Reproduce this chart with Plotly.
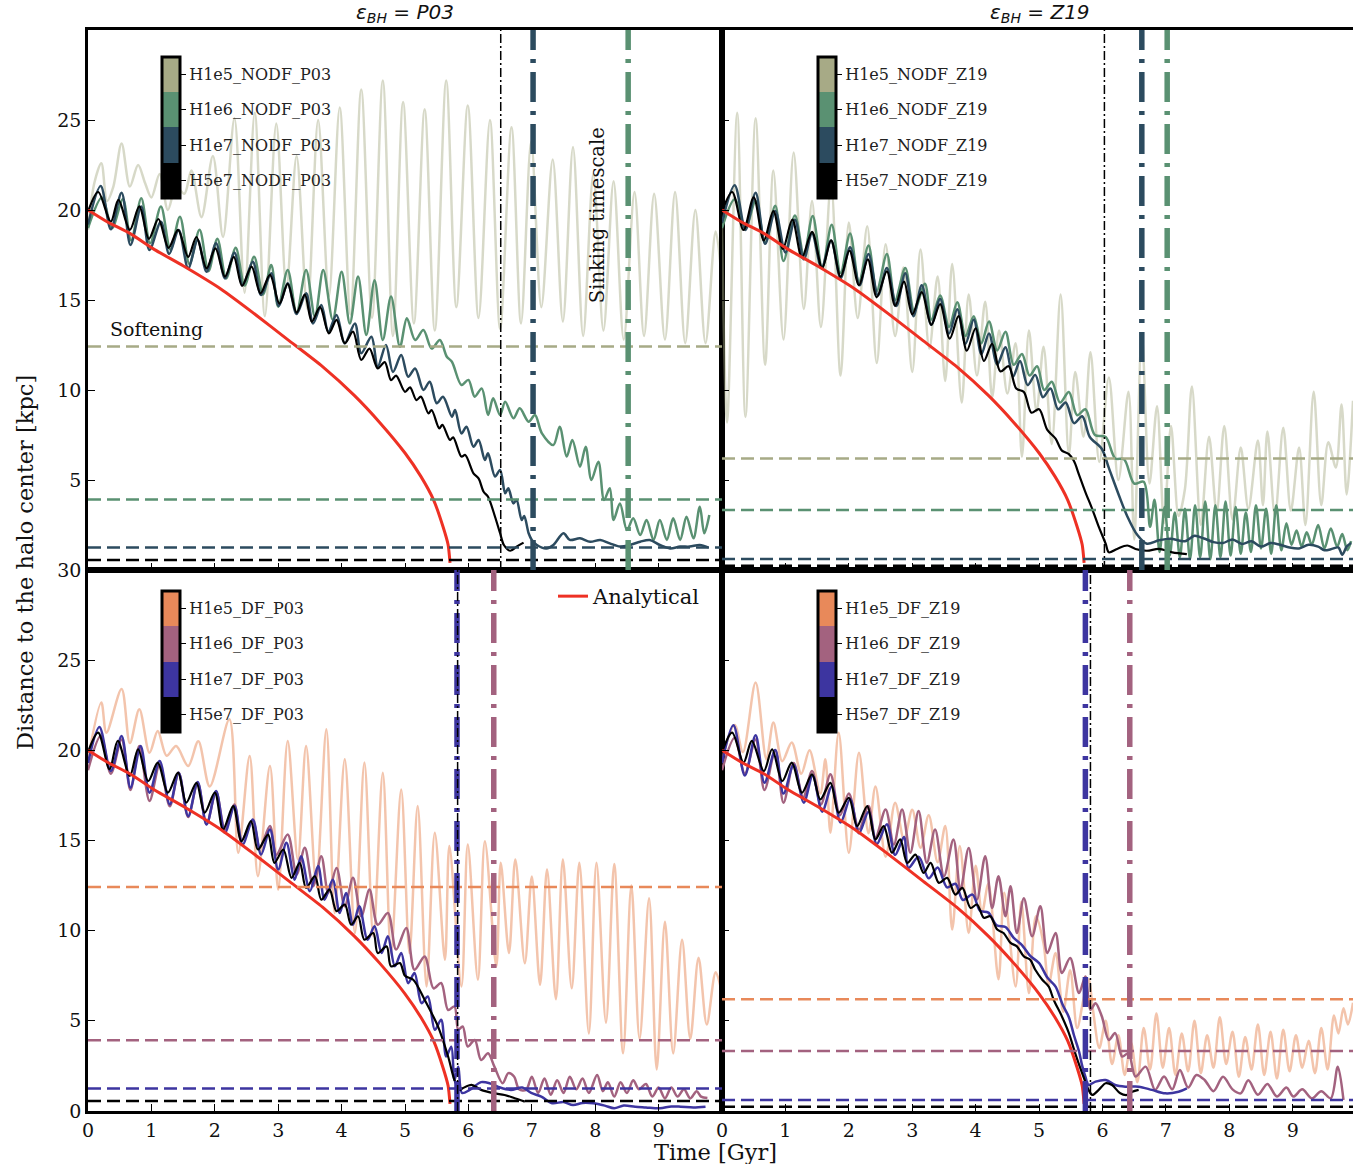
import plotly.graph_objects as go
from plotly.subplots import make_subplots

W, H = 1353, 1164
SERIF = "DejaVu Serif"

# ---- analytical sinking curve (same in every panel) : [time Gyr, distance kpc]
analytical = [[0, 20.0], [0.3, 19.35], [0.66, 18.7], [1.05, 17.8], [1.5, 16.9], [2.1, 15.6],
              [2.6, 14.3], [3.15, 12.8], [3.7, 11.3], [4.2, 9.7], [4.6, 8.2], [5.0, 6.5],
              [5.25, 5.2], [5.45, 3.9], [5.6, 2.4], [5.68, 1.4], [5.71, 0.4]]

# ---- NODF, P03 softening
nodf_p03_h1e5 = [[0, 18.9], [0.1, 21.5], [0.21, 22.6], [0.3, 20.5], [0.4, 21.3], [0.53, 23.7], [0.66, 21.3],
                 [0.79, 22.5], [0.9, 21.5], [1.0, 20.7], [1.13, 22.0], [1.26, 20.0], [1.39, 21.3], [1.52, 20.9],
                 [1.63, 22.2], [1.79, 19.6], [1.97, 23.0], [2.13, 18.5], [2.31, 25.1], [2.47, 15.4], [2.63, 25.4],
                 [2.79, 14.1], [2.97, 24.8], [3.13, 15.7], [3.29, 23.0], [3.46, 14.5], [3.63, 25.0], [3.8, 15.2],
                 [3.97, 25.7], [4.14, 14.2], [4.31, 26.7], [4.48, 14.0], [4.65, 27.2], [4.81, 13.0], [4.97, 26.0],
                 [5.14, 13.7], [5.31, 25.6], [5.47, 13.3], [5.65, 27.2], [5.81, 14.6], [5.99, 25.8], [6.16, 14.0],
                 [6.34, 25.0], [6.5, 13.4], [6.68, 24.6], [6.83, 13.7], [6.99, 23.8], [7.15, 14.6], [7.33, 22.8],
                 [7.49, 13.8], [7.65, 23.5], [7.81, 13.0], [7.97, 22.0], [8.13, 13.3], [8.29, 21.6], [8.45, 12.8],
                 [8.62, 21.0], [8.77, 13.0], [8.93, 20.9], [9.1, 12.8], [9.26, 21.0], [9.42, 12.6], [9.58, 20.0],
                 [9.74, 12.6], [9.9, 18.8], [10.0, 16.0]]
nodf_p03_h1e6 = [[0, 19.0], [0.22, 20.7], [0.38, 19.0], [0.55, 20.6], [0.68, 18.3], [0.84, 20.65], [0.98, 18.15],
                 [1.15, 20.19], [1.3, 17.8], [1.45, 19.63], [1.6, 17.0], [1.76, 18.9], [1.9, 16.6], [2.04, 18.4],
                 [2.18, 16.2], [2.33, 17.9], [2.47, 15.8], [2.62, 17.4], [2.76, 15.3], [2.89, 16.94], [3.0, 14.63],
                 [3.15, 16.67], [3.29, 14.3], [3.44, 16.67], [3.58, 14.07], [3.71, 16.67], [3.86, 13.9],
                 [4.0, 16.57], [4.13, 13.7], [4.26, 16.3], [4.39, 13.06], [4.52, 16.1], [4.65, 12.78],
                 [4.78, 15.19], [4.92, 12.4], [5.03, 13.98], [5.16, 12.78], [5.29, 13.33], [5.42, 12.3],
                 [5.55, 12.78], [5.66, 11.85], [5.74, 11.57], [5.89, 10.28], [6.0, 10.56], [6.1, 9.63],
                 [6.21, 10.09], [6.31, 8.61], [6.39, 9.54], [6.5, 8.61], [6.58, 9.35], [6.71, 8.43], [6.81, 8.98],
                 [6.95, 8.24], [7.05, 8.61], [7.16, 7.59], [7.34, 6.94], [7.44, 7.96], [7.55, 6.3], [7.64, 7.22],
                 [7.76, 5.74], [7.85, 6.85], [7.94, 5.0], [8.05, 6.02], [8.14, 3.89], [8.23, 4.54], [8.29, 2.78],
                 [8.39, 3.7], [8.5, 2.22], [8.6, 2.87], [8.71, 1.94], [8.81, 2.78], [8.92, 1.67], [9.02, 2.78],
                 [9.13, 1.67], [9.23, 2.87], [9.34, 1.67], [9.44, 2.96], [9.55, 1.76], [9.65, 3.52], [9.72, 2.04],
                 [9.8, 3.06]]
nodf_p03_h1e7 = [[0, 19.2], [0.2, 21.33], [0.36, 18.93], [0.53, 20.96], [0.67, 18.06], [0.84, 20.19], [0.97, 17.78],
                 [1.15, 19.35], [1.28, 17.56], [1.43, 18.89], [1.58, 16.76], [1.73, 18.33], [1.87, 16.57],
                 [2.02, 18.15], [2.16, 16.2], [2.31, 17.63], [2.44, 15.83], [2.6, 17.13], [2.73, 15.28],
                 [2.89, 16.48], [3.01, 14.67], [3.15, 15.93], [3.29, 14.22], [3.44, 15.37], [3.55, 13.7],
                 [3.68, 14.72], [3.79, 13.24], [3.92, 14.17], [4.05, 12.59], [4.21, 13.7], [4.31, 12.04],
                 [4.47, 12.96], [4.57, 11.3], [4.7, 12.5], [4.81, 11.0], [4.94, 11.94], [5.05, 10.74], [5.16, 11.2],
                 [5.29, 10.0], [5.39, 10.46], [5.5, 9.26], [5.6, 9.63], [5.74, 8.52], [5.79, 8.89], [5.89, 7.59],
                 [5.97, 7.96], [6.08, 6.85], [6.16, 7.22], [6.26, 6.11], [6.31, 6.48], [6.42, 5.19], [6.5, 5.56],
                 [6.58, 4.26], [6.63, 4.54], [6.71, 3.7], [6.76, 3.89], [6.84, 2.78], [6.88, 3.0], [6.95, 2.04],
                 [7.0, 1.67], [7.08, 1.39], [7.23, 1.2], [7.34, 1.39], [7.5, 2.04], [7.6, 1.67], [7.76, 1.76],
                 [7.92, 1.57], [8.08, 1.67], [8.23, 1.48], [8.39, 1.3], [8.55, 1.39], [8.71, 1.57], [8.86, 1.67],
                 [9.02, 1.39], [9.18, 1.2], [9.34, 1.3], [9.49, 1.3], [9.65, 1.39], [9.78, 1.26]]
nodf_p03_h5e7 = [[0, 19.9], [0.16, 21.0], [0.36, 19.35], [0.48, 20.56], [0.66, 18.9], [0.81, 20.2], [0.96, 18.4],
                 [1.11, 19.5], [1.27, 17.9], [1.42, 18.9], [1.58, 17.4], [1.71, 18.5], [1.87, 16.76], [2.01, 17.87],
                 [2.16, 16.3], [2.3, 17.4], [2.43, 15.78], [2.58, 16.85], [2.72, 15.37], [2.87, 16.4], [3.02, 14.8],
                 [3.15, 15.9], [3.29, 14.3], [3.42, 15.3], [3.53, 13.8], [3.66, 14.6], [3.8, 13.15], [3.92, 13.9],
                 [4.05, 12.6], [4.18, 13.24], [4.31, 11.67], [4.44, 12.3], [4.57, 11.2], [4.68, 11.55],
                 [4.78, 10.55], [4.86, 10.8], [5.0, 9.9], [5.08, 10.15], [5.18, 9.44], [5.25, 9.63], [5.37, 8.7],
                 [5.42, 8.89], [5.54, 7.87], [5.59, 8.06], [5.71, 7.22], [5.76, 7.37], [5.89, 6.3], [5.95, 6.39],
                 [6.08, 5.37], [6.16, 5.09], [6.24, 4.35], [6.31, 4.07], [6.42, 2.96], [6.5, 2.04], [6.56, 1.39],
                 [6.66, 1.07], [6.76, 1.3], [6.87, 1.52]]

# ---- NODF, Z19 softening
nodf_z19_h1e5 = [[0, 19.0], [0.08, 8.2], [0.24, 25.4], [0.37, 8.5], [0.53, 25.1], [0.68, 11.4], [0.81, 22.2],
                 [0.97, 12.8], [1.13, 23.2], [1.29, 14.5], [1.42, 20.5], [1.56, 13.5], [1.72, 21.5], [1.87, 10.8],
                 [2.0, 19.3], [2.14, 14.0], [2.29, 19.1], [2.44, 11.5], [2.58, 18.1], [2.73, 13.0], [2.86, 16.8],
                 [3.0, 11.0], [3.13, 17.8], [3.27, 12.3], [3.4, 16.3], [3.52, 10.5], [3.63, 17.0], [3.78, 9.3],
                 [3.89, 15.3], [4.02, 10.8], [4.15, 14.9], [4.26, 9.6], [4.37, 13.3], [4.5, 9.8], [4.63, 12.6],
                 [4.73, 6.3], [4.84, 13.3], [4.96, 8.8], [5.07, 12.4], [5.2, 7.0], [5.34, 15.3], [5.47, 6.4],
                 [5.57, 11.0], [5.7, 7.4], [5.81, 12.1], [5.95, 6.0], [6.1, 10.7], [6.25, 5.0], [6.41, 9.9],
                 [6.5, 1.7], [6.62, 13.1], [6.74, 4.8], [6.86, 9.1], [6.97, 2.6], [7.08, 8.0], [7.2, 3.0],
                 [7.3, 4.5], [7.41, 10.2], [7.55, 2.5], [7.68, 7.4], [7.8, 3.2], [7.92, 8.0], [8.05, 2.8],
                 [8.18, 6.8], [8.3, 3.4], [8.45, 7.2], [8.53, 3.6], [8.6, 7.7], [8.72, 3.0], [8.85, 7.9],
                 [8.97, 3.3], [9.1, 6.8], [9.2, 2.5], [9.33, 9.9], [9.45, 3.6], [9.56, 7.1], [9.68, 5.7],
                 [9.77, 9.2], [9.85, 4.2], [9.95, 9.4]]
nodf_z19_h1e6 = [[0, 19.0], [0.2, 20.6], [0.37, 19.0], [0.53, 20.5], [0.68, 18.2], [0.84, 20.23], [0.97, 17.16],
                 [1.15, 19.7], [1.29, 17.5], [1.43, 19.66], [1.58, 16.78], [1.73, 19.18], [1.87, 16.5], [2.02, 18.7],
                 [2.16, 16.0], [2.31, 18.03], [2.44, 15.5], [2.6, 17.55], [2.73, 15.0], [2.89, 16.78], [3.03, 14.4],
                 [3.2, 15.9], [3.3, 13.9], [3.44, 15.25], [3.58, 13.5], [3.71, 14.87], [3.84, 13.0], [3.97, 14.1],
                 [4.09, 12.6], [4.21, 13.81], [4.34, 12.2], [4.47, 13.24], [4.6, 11.4], [4.73, 12.0], [4.85, 10.8],
                 [4.97, 11.32], [5.08, 10.0], [5.2, 10.46], [5.33, 9.3], [5.47, 9.89], [5.6, 8.6], [5.73, 8.93],
                 [5.88, 7.5], [6.05, 7.39], [6.2, 6.2], [6.34, 6.15], [6.5, 4.8], [6.65, 4.9], [6.75, 2.4],
                 [6.82, 3.9], [6.9, 1.0], [6.98, 3.5], [7.06, 0.8], [7.14, 3.2], [7.22, 0.7], [7.3, 3.4],
                 [7.38, 0.6], [7.46, 3.6], [7.54, 0.7], [7.62, 3.8], [7.7, 0.6], [7.78, 3.6], [7.86, 0.7],
                 [7.94, 3.8], [8.02, 0.8], [8.1, 3.5], [8.18, 0.9], [8.26, 3.2], [8.34, 1.0], [8.42, 3.6],
                 [8.5, 1.2], [8.58, 3.4], [8.66, 0.9], [8.74, 3.6], [8.82, 1.1], [8.9, 2.6], [8.98, 1.4],
                 [9.06, 2.2], [9.14, 1.3], [9.22, 2.1], [9.3, 1.4], [9.4, 2.5], [9.5, 1.2], [9.6, 2.3], [9.7, 1.3],
                 [9.78, 2.0], [9.86, 1.1], [9.92, 1.6]]
nodf_z19_h1e7 = [[0, 19.3], [0.2, 21.38], [0.37, 18.89], [0.53, 20.96], [0.68, 18.12], [0.84, 19.94], [1.0, 17.64],
                 [1.15, 19.46], [1.29, 17.26], [1.42, 18.7], [1.57, 16.78], [1.72, 18.31], [1.87, 16.21],
                 [2.02, 17.93], [2.17, 15.82], [2.31, 17.55], [2.46, 15.25], [2.6, 16.78], [2.75, 14.67],
                 [2.89, 16.49], [3.02, 14.1], [3.15, 15.82], [3.3, 13.62], [3.44, 15.06], [3.58, 13.14],
                 [3.71, 14.48], [3.84, 12.57], [3.97, 13.91], [4.09, 11.99], [4.21, 13.14], [4.34, 11.42],
                 [4.47, 12.38], [4.59, 10.75], [4.7, 11.61], [4.82, 10.27], [4.94, 10.84], [5.06, 9.6],
                 [5.18, 10.08], [5.3, 8.93], [5.42, 9.31], [5.55, 8.16], [5.68, 8.54], [5.8, 7.39], [5.99, 6.72],
                 [6.1, 5.67], [6.26, 4.14], [6.39, 2.99], [6.55, 1.94], [6.7, 1.46], [6.89, 1.65], [7.07, 1.74],
                 [7.3, 1.6], [7.45, 1.9], [7.6, 1.75], [7.75, 1.55], [7.9, 1.5], [8.05, 1.7], [8.2, 1.45],
                 [8.35, 1.6], [8.5, 1.3], [8.65, 1.5], [8.8, 1.4], [8.95, 1.25], [9.1, 1.2], [9.25, 1.4],
                 [9.4, 1.3], [9.5, 1.1], [9.6, 1.15], [9.72, 1.25], [9.78, 0.85], [9.85, 1.3], [9.92, 1.5]]
nodf_z19_h5e7 = [[0, 19.9], [0.16, 21.0], [0.34, 18.89], [0.5, 20.7], [0.66, 18.31], [0.81, 19.94], [0.96, 17.84],
                 [1.11, 19.46], [1.26, 17.36], [1.42, 18.79], [1.58, 16.78], [1.72, 18.31], [1.87, 16.3],
                 [2.01, 17.74], [2.16, 15.82], [2.3, 17.26], [2.44, 15.15], [2.6, 16.59], [2.73, 14.67],
                 [2.87, 16.02], [3.0, 14.2], [3.15, 15.44], [3.3, 13.62], [3.44, 14.77], [3.59, 12.85],
                 [3.73, 14.1], [3.86, 12.18], [4.0, 13.43], [4.13, 11.61], [4.26, 12.57], [4.39, 11.03],
                 [4.52, 11.32], [4.64, 10.08], [4.76, 9.89], [4.88, 8.74], [5.0, 8.93], [5.13, 7.78], [5.26, 7.3],
                 [5.36, 6.63], [5.47, 6.44], [5.55, 6.05], [5.63, 5.29], [5.73, 4.33], [5.84, 3.37], [5.94, 2.41],
                 [6.05, 1.46], [6.1, 0.98], [6.23, 1.17], [6.39, 1.36], [6.52, 1.17], [6.7, 1.07], [6.89, 1.17],
                 [7.1, 0.98], [7.33, 0.88]]

# ---- DF, P03 softening
df_p03_h1e5 = [[0, 19.5], [0.21, 22.65], [0.29, 20.98], [0.53, 23.4], [0.66, 20.4], [0.81, 22.28], [0.97, 19.87],
               [1.1, 21.07], [1.24, 19.7], [1.39, 20.24], [1.58, 19.13], [1.74, 20.5], [1.92, 18.0], [2.23, 21.72],
               [2.37, 14.32], [2.55, 19.69], [2.68, 13.02], [2.87, 19.13], [3.0, 12.28], [3.15, 20.52],
               [3.31, 13.95], [3.44, 20.24], [3.6, 12.65], [3.76, 21.17], [3.89, 10.98], [4.05, 19.5], [4.21, 9.87],
               [4.36, 19.32], [4.5, 9.69], [4.65, 18.76], [4.78, 8.76], [4.94, 17.83], [5.07, 8.76], [5.2, 16.91],
               [5.34, 6.91], [5.47, 15.43], [5.63, 8.39], [5.7, 14.7], [5.89, 6.91], [5.99, 14.78], [6.15, 7.28],
               [6.26, 14.96], [6.44, 8.02], [6.51, 13.76], [6.64, 8.76], [6.74, 13.94], [6.89, 8.2], [7.0, 13.0],
               [7.13, 7.0], [7.24, 13.39], [7.38, 6.2], [7.49, 13.95], [7.63, 6.8], [7.75, 13.76], [7.9, 4.3],
               [8.02, 13.76], [8.17, 4.9], [8.3, 13.7], [8.44, 3.2], [8.57, 12.5], [8.7, 4.0], [8.85, 11.8],
               [8.97, 2.3], [9.1, 10.5], [9.23, 3.2], [9.37, 9.5], [9.5, 4.0], [9.63, 8.5], [9.76, 4.8],
               [9.9, 7.7], [10.0, 6.5]]
df_p03_h1e6 = [[0, 18.9], [0.2, 20.8], [0.36, 18.7], [0.53, 20.6], [0.67, 17.8], [0.81, 20.24], [0.97, 17.19],
               [1.13, 19.2], [1.29, 16.9], [1.43, 18.76], [1.58, 16.3], [1.73, 18.2], [1.87, 15.9], [2.02, 17.7],
               [2.16, 15.61], [2.31, 17.0], [2.42, 15.0], [2.6, 16.1], [2.71, 14.6], [2.87, 15.8], [2.97, 14.2],
               [3.15, 15.33], [3.29, 13.11], [3.42, 14.6], [3.55, 12.46], [3.68, 14.13], [3.79, 12.09],
               [3.92, 13.48], [4.05, 11.35], [4.18, 12.93], [4.31, 10.8], [4.44, 12.28], [4.57, 10.33],
               [4.73, 10.98], [4.86, 8.95], [5.02, 10.15], [5.15, 7.83], [5.31, 8.57], [5.45, 6.8], [5.57, 7.1],
               [5.68, 5.6], [5.78, 5.8], [5.84, 4.5], [5.91, 4.69], [5.99, 3.57], [6.1, 3.94], [6.2, 2.83],
               [6.31, 3.2], [6.41, 2.46], [6.54, 1.54], [6.63, 2.1], [6.72, 1.91], [6.8, 1.2], [6.91, 1.17],
               [7.0, 1.9], [7.1, 1.0], [7.2, 1.8], [7.3, 0.9], [7.4, 1.7], [7.5, 1.0], [7.6, 1.9], [7.7, 1.2],
               [7.8, 1.8], [7.9, 1.0], [8.03, 2.0], [8.12, 1.1], [8.2, 1.6], [8.3, 0.8], [8.4, 1.6], [8.5, 1.0],
               [8.6, 1.7], [8.69, 1.2], [8.8, 1.5], [8.9, 0.8], [9.0, 1.3], [9.1, 0.7], [9.2, 1.3], [9.3, 0.8],
               [9.4, 1.2], [9.5, 0.7], [9.6, 1.1], [9.67, 0.8], [9.77, 0.72]]
df_p03_h1e7 = [[0, 19.3], [0.18, 21.3], [0.36, 18.85], [0.53, 20.8], [0.67, 17.93], [0.83, 20.24], [0.97, 17.65],
               [1.13, 19.41], [1.29, 17.0], [1.43, 18.76], [1.58, 16.35], [1.73, 18.24], [1.87, 15.89],
               [2.02, 17.74], [2.16, 15.43], [2.31, 16.91], [2.44, 14.78], [2.6, 16.17], [2.73, 14.22],
               [2.87, 15.61], [3.0, 13.39], [3.13, 14.87], [3.26, 12.83], [3.36, 14.13], [3.5, 12.19],
               [3.63, 13.58], [3.73, 11.72], [3.86, 12.83], [3.97, 10.98], [4.07, 12.09], [4.18, 10.33],
               [4.28, 11.35], [4.41, 9.5], [4.52, 10.24], [4.63, 8.76], [4.73, 9.69], [4.84, 8.02], [4.94, 8.76],
               [5.05, 7.09], [5.15, 7.65], [5.26, 5.98], [5.36, 6.35], [5.47, 4.5], [5.57, 5.06], [5.65, 3.02],
               [5.73, 3.57], [5.78, 1.72], [5.84, 2.46], [5.9, 1.0], [6.02, 1.17], [6.2, 1.6], [6.35, 1.52],
               [6.5, 1.3], [6.67, 1.17], [6.85, 1.3], [6.99, 1.0], [7.15, 0.8], [7.32, 0.43], [7.5, 0.5],
               [7.65, 0.33], [7.8, 0.45], [7.97, 0.43], [8.15, 0.3], [8.3, 0.15], [8.45, 0.3], [8.63, 0.24],
               [8.8, 0.2], [9.02, 0.15], [9.2, 0.25], [9.35, 0.24], [9.55, 0.2], [9.74, 0.24]]
df_p03_h5e7 = [[0, 19.9], [0.16, 20.98], [0.34, 18.95], [0.47, 20.52], [0.66, 18.58], [0.79, 20.06], [0.95, 18.3],
               [1.1, 19.32], [1.26, 17.65], [1.42, 18.76], [1.55, 17.1], [1.71, 18.2], [1.84, 16.54], [2.0, 17.65],
               [2.13, 15.61], [2.29, 16.91], [2.42, 14.96], [2.57, 16.07], [2.68, 14.5], [2.84, 15.33],
               [2.94, 13.76], [3.08, 14.5], [3.21, 12.93], [3.34, 13.76], [3.44, 12.37], [3.58, 13.02],
               [3.68, 11.72], [3.81, 12.28], [3.92, 11.08], [4.05, 11.45], [4.15, 10.33], [4.26, 10.8], [4.36, 9.5],
               [4.5, 9.87], [4.57, 8.76], [4.71, 9.13], [4.78, 8.02], [4.92, 8.2], [5.0, 7.5], [5.13, 7.28],
               [5.31, 6.17], [5.52, 4.69], [5.68, 3.02], [5.78, 1.72], [5.86, 1.17], [5.91, 1.26], [6.05, 1.45],
               [6.2, 1.17], [6.41, 0.98], [6.57, 0.89], [6.73, 0.71], [6.89, 0.52]]

# ---- DF, Z19 softening
df_z19_h1e5 = [[0, 19.5], [0.2, 21.4], [0.33, 19.9], [0.53, 23.76], [0.7, 19.5], [0.81, 21.54], [0.95, 19.4],
               [1.1, 20.43], [1.25, 18.7], [1.38, 20.0], [1.55, 17.6], [1.63, 19.5], [1.71, 15.43], [1.84, 20.98],
               [2.0, 14.32], [2.16, 19.87], [2.31, 15.4], [2.42, 18.0], [2.58, 14.1], [2.73, 17.1], [2.87, 15.06],
               [3.0, 16.7], [3.13, 14.6], [3.26, 16.4], [3.4, 13.8], [3.52, 15.8], [3.63, 10.06], [3.75, 14.7],
               [3.89, 9.87], [4.0, 13.6], [4.1, 11.0], [4.2, 12.6], [4.36, 7.3], [4.45, 12.1], [4.63, 6.91],
               [4.72, 11.6], [4.84, 6.54], [4.95, 10.8], [5.07, 9.3], [5.15, 7.0], [5.26, 8.76], [5.38, 5.5],
               [5.49, 7.8], [5.6, 4.6], [5.7, 6.2], [5.78, 7.3], [5.85, 5.6], [5.95, 3.5], [6.05, 5.0], [6.15, 2.6],
               [6.25, 4.2], [6.35, 2.0], [6.45, 3.8], [6.55, 1.6], [6.65, 4.6], [6.75, 2.3], [6.85, 5.4],
               [6.95, 2.4], [7.05, 4.6], [7.15, 2.0], [7.25, 4.3], [7.35, 2.2], [7.45, 5.0], [7.55, 2.1],
               [7.65, 4.2], [7.75, 2.4], [7.85, 5.2], [7.95, 2.6], [8.05, 4.4], [8.15, 1.9], [8.25, 4.1],
               [8.35, 2.3], [8.45, 4.8], [8.55, 2.0], [8.65, 4.4], [8.75, 1.8], [8.85, 4.5], [8.95, 2.2],
               [9.05, 4.2], [9.15, 2.4], [9.25, 3.9], [9.35, 2.1], [9.45, 4.6], [9.55, 2.3], [9.65, 5.3],
               [9.72, 4.3], [9.8, 5.7], [9.87, 4.8], [9.95, 6.0]]
df_z19_h1e6 = [[0, 18.9], [0.2, 20.7], [0.36, 18.7], [0.53, 20.6], [0.67, 17.8], [0.84, 20.0], [0.97, 17.09],
               [1.13, 19.3], [1.28, 17.4], [1.42, 18.85], [1.56, 17.0], [1.71, 18.67], [1.86, 16.4], [2.0, 17.6],
               [2.16, 15.61], [2.31, 16.91], [2.42, 15.15], [2.58, 16.72], [2.71, 14.78], [2.84, 16.72],
               [2.97, 14.32], [3.1, 16.63], [3.23, 13.76], [3.36, 15.61], [3.5, 13.02], [3.65, 15.06],
               [3.76, 12.28], [3.89, 14.59], [4.02, 11.72], [4.15, 14.13], [4.26, 11.26], [4.36, 13.02],
               [4.47, 10.8], [4.55, 12.46], [4.65, 9.87], [4.76, 11.8], [4.89, 9.69], [5.02, 11.35], [5.13, 8.76],
               [5.26, 9.87], [5.36, 7.65], [5.49, 8.48], [5.63, 6.54], [5.73, 7.46], [5.81, 5.61], [5.89, 5.98],
               [5.99, 5.24], [6.1, 3.94], [6.2, 4.32], [6.31, 3.02], [6.41, 3.2], [6.52, 1.91], [6.68, 2.46],
               [6.83, 1.17], [6.97, 1.91], [7.1, 1.2], [7.22, 2.28], [7.35, 1.3], [7.48, 2.0], [7.61, 1.72],
               [7.75, 1.1], [7.9, 1.9], [8.05, 1.2], [8.18, 0.98], [8.3, 1.7], [8.45, 0.9], [8.6, 1.5],
               [8.75, 0.8], [8.9, 1.3], [9.01, 0.8], [9.15, 1.2], [9.3, 0.7], [9.45, 1.1], [9.6, 0.7],
               [9.71, 2.46], [9.8, 0.61]]
df_z19_h1e7 = [[0, 19.3], [0.18, 21.39], [0.36, 18.6], [0.53, 20.83], [0.67, 18.2], [0.84, 20.02], [0.97, 17.6],
               [1.13, 19.2], [1.29, 17.1], [1.43, 18.6], [1.58, 16.6], [1.73, 18.0], [1.87, 16.0], [2.02, 17.3],
               [2.16, 15.4], [2.31, 16.6], [2.44, 14.8], [2.6, 15.9], [2.73, 14.2], [2.87, 15.2], [2.94, 13.48],
               [3.1, 14.1], [3.26, 12.9], [3.4, 13.5], [3.55, 12.4], [3.68, 12.6], [3.8, 11.7], [3.95, 12.0],
               [4.07, 11.1], [4.2, 11.0], [4.33, 10.3], [4.47, 10.2], [4.6, 9.6], [4.73, 9.2], [4.86, 8.6],
               [5.0, 8.2], [5.13, 7.4], [5.26, 6.9], [5.37, 5.9], [5.47, 5.2], [5.55, 4.2], [5.63, 3.3],
               [5.68, 2.5], [5.73, 1.9], [5.78, 1.45], [5.89, 1.63], [6.05, 1.72], [6.2, 1.44], [6.36, 1.35],
               [6.57, 1.35], [6.78, 1.17], [6.99, 0.98], [7.2, 1.07], [7.33, 1.26]]
df_z19_h5e7 = [[0, 19.9], [0.16, 20.98], [0.34, 19.32], [0.47, 20.52], [0.66, 18.85], [0.79, 20.06], [0.95, 18.3],
               [1.1, 19.32], [1.26, 17.65], [1.42, 18.67], [1.55, 17.28], [1.71, 18.2], [1.84, 16.54], [2.0, 17.37],
               [2.13, 15.8], [2.29, 16.91], [2.42, 15.06], [2.55, 15.8], [2.68, 14.32], [2.81, 15.06],
               [2.92, 13.76], [3.05, 14.22], [3.18, 13.2], [3.29, 13.76], [3.42, 12.65], [3.55, 12.93], [3.68, 12.0],
               [3.79, 12.37], [3.92, 11.26], [4.02, 11.45], [4.13, 10.71], [4.23, 10.8], [4.34, 10.06],
               [4.44, 9.87], [4.55, 9.32], [4.65, 9.13], [4.76, 8.57], [4.86, 8.39], [4.94, 7.83], [5.05, 7.28],
               [5.15, 6.91], [5.23, 6.17], [5.36, 5.24], [5.47, 4.32], [5.57, 3.2], [5.68, 2.09], [5.78, 1.17],
               [5.84, 0.89], [5.94, 1.17], [6.05, 1.54], [6.15, 1.44], [6.28, 0.98], [6.39, 0.89], [6.47, 1.07],
               [6.57, 1.17]]

# softening lengths [kpc] for H1e5, H1e6, H1e7, H5e7
soft_p03 = [12.42, 3.92, 1.25, 0.56]
soft_z19 = [6.2, 3.33, 0.61, 0.24]
# sinking timescales [Gyr] for H1e6, H1e7, H5e7
sink_nodf_p03 = [8.52, 7.02, 6.51]
sink_nodf_z19 = [7.02, 6.62, 6.03]
sink_df_p03 = [6.40, 5.82, 5.83]
sink_df_z19 = [6.43, 5.73, 5.81]

runs = ["H1e5", "H1e6", "H1e7", "H5e7"]
nodf_colors = ["#a7aa86", "#5a9172", "#2c4b5f", "#000000"]
df_colors = ["#e8895a", "#a3627f", "#3d35a0", "#000000"]
nodf_light = "rgba(167,170,134,0.45)"
df_light = "rgba(232,137,90,0.5)"

panels = [
    dict(row=1, col=1, data=[nodf_p03_h1e5, nodf_p03_h1e6, nodf_p03_h1e7, nodf_p03_h5e7], colors=nodf_colors,
         light=nodf_light, soft=soft_p03, sink=sink_nodf_p03, tag="NODF_P03", cax="coloraxis", cbx=162, cby=57),
    dict(row=1, col=2, data=[nodf_z19_h1e5, nodf_z19_h1e6, nodf_z19_h1e7, nodf_z19_h5e7], colors=nodf_colors,
         light=nodf_light, soft=soft_z19, sink=sink_nodf_z19, tag="NODF_Z19", cax="coloraxis2", cbx=818, cby=57),
    dict(row=2, col=1, data=[df_p03_h1e5, df_p03_h1e6, df_p03_h1e7, df_p03_h5e7], colors=df_colors,
         light=df_light, soft=soft_p03, sink=sink_df_p03, tag="DF_P03", cax="coloraxis3", cbx=162, cby=591),
    dict(row=2, col=2, data=[df_z19_h1e5, df_z19_h1e6, df_z19_h1e7, df_z19_h5e7], colors=df_colors,
         light=df_light, soft=soft_z19, sink=sink_df_z19, tag="DF_Z19", cax="coloraxis4", cbx=818, cby=591),
]

fig = make_subplots(rows=2, cols=2, horizontal_spacing=0, vertical_spacing=0)

for p in panels:
    r, c = p["row"], p["col"]
    for i, series in enumerate(p["data"]):
        color = p["light"] if i == 0 else p["colors"][i]
        width = 2.2 if i == 3 else 2.5
        fig.add_trace(go.Scatter(
            x=[pt[0] for pt in series], y=[pt[1] for pt in series], mode="lines",
            line=dict(color=color, width=width, shape="spline", smoothing=0.9),
            name=f"{runs[i]}_{p['tag']}", showlegend=False, hoverinfo="skip"), row=r, col=c)
    fig.add_trace(go.Scatter(
        x=[pt[0] for pt in analytical], y=[pt[1] for pt in analytical], mode="lines",
        line=dict(color="#ee3124", width=3, shape="spline", smoothing=0.6),
        name="Analytical", showlegend=(r == 2 and c == 1)), row=r, col=c)

    # softening (dashed horizontals)
    for i, s in enumerate(p["soft"]):
        fig.add_hline(y=s, row=r, col=c, line=dict(color=p["colors"][i], width=2.5, dash="13px,6px"))
    # sinking timescales (dash-dot verticals)
    fig.add_vline(x=p["sink"][0], row=r, col=c, line=dict(color=p["colors"][1], width=5.5, dash="30px,9px,4px,9px"))
    fig.add_vline(x=p["sink"][1], row=r, col=c, line=dict(color=p["colors"][2], width=5.5, dash="30px,9px,4px,9px"))
    fig.add_vline(x=p["sink"][2], row=r, col=c, line=dict(color="black", width=1.5, dash="9px,3px,2px,3px"))

    # discrete colour bar used as the legend of the runs
    scale = []
    cols_bottom_up = p["colors"][::-1]
    for k, col_ in enumerate(cols_bottom_up):
        scale += [[k / 4, col_], [(k + 1) / 4, col_]]
    fig.add_trace(go.Scatter(
        x=[None], y=[None], mode="markers", showlegend=False, hoverinfo="skip",
        marker=dict(color=[0], coloraxis=p["cax"])), row=r, col=c)
    fig.update_layout({p["cax"]: dict(
        colorscale=scale, cmin=-0.5, cmax=3.5,
        colorbar=dict(x=p["cbx"] / W, xanchor="left", y=1 - p["cby"] / H, yanchor="top",
                      len=141, lenmode="pixels", thickness=18, thicknessmode="pixels",
                      xpad=0, ypad=0, outlinewidth=3, outlinecolor="black",
                      tickvals=[0, 1, 2, 3], ticktext=[f"{run}_{p['tag']}" for run in runs[::-1]],
                      ticks="outside", ticklen=5, tickwidth=1.2, tickcolor="black",
                      tickfont=dict(family=SERIF, size=16, color="#222")))})

axis_style = dict(showline=True, linewidth=2.5, linecolor="black", mirror=True, ticks="inside", ticklen=7,
                  tickwidth=1.2, tickcolor="black", showgrid=False, zeroline=False, automargin=False,
                  tickfont=dict(family=SERIF, size=19, color="#111"))

x_left = [88 / W, 722 / W]
x_right = [722 / W, 1.0]
y_top = [1 - 570 / H, 1 - 30 / H]
y_bot = [1 - 1111 / H, 1 - 570 / H]

fig.update_layout(
    xaxis=dict(domain=x_left, range=[0, 10], tickvals=list(range(10)), showticklabels=False, **axis_style),
    xaxis2=dict(domain=x_right, range=[0, 9.95], tickvals=list(range(10)), showticklabels=False, **axis_style),
    xaxis3=dict(domain=x_left, range=[0, 10], tickvals=list(range(10)), **axis_style),
    xaxis4=dict(domain=x_right, range=[0, 9.95], tickvals=list(range(10)), **axis_style),
    yaxis=dict(domain=y_top, range=[0, 30], tickvals=[5, 10, 15, 20, 25], **axis_style),
    yaxis2=dict(domain=y_top, range=[0, 30], tickvals=[5, 10, 15, 20, 25], showticklabels=False, **axis_style),
    yaxis3=dict(domain=y_bot, range=[0, 30], tickvals=[0, 5, 10, 15, 20, 25, 30], **axis_style),
    yaxis4=dict(domain=y_bot, range=[0, 30], tickvals=[0, 5, 10, 15, 20, 25, 30], showticklabels=False,
                **axis_style),
)

ann_font = dict(family=SERIF, size=19, color="#111")
fig.add_annotation(x=0.32, y=13.4, xref="x", yref="y", text="Softening", showarrow=False,
                   xanchor="left", yanchor="middle", font=ann_font)
fig.add_annotation(x=8.04, y=19.7, xref="x", yref="y", text="Sinking timescale", showarrow=False,
                   textangle=-90, font=dict(family=SERIF, size=19.5, color="#111"))
fig.add_annotation(x=405 / W, y=1 - 13 / H, xref="paper", yref="paper", showarrow=False,
                   xanchor="center", yanchor="middle",
                   text="<i>ε<sub>BH</sub></i> = <i>P03</i>", font=dict(family="DejaVu Sans", size=20, color="#111"))
fig.add_annotation(x=1040 / W, y=1 - 13 / H, xref="paper", yref="paper", showarrow=False,
                   xanchor="center", yanchor="middle",
                   text="<i>ε<sub>BH</sub></i> = <i>Z19</i>", font=dict(family="DejaVu Sans", size=20, color="#111"))
fig.add_annotation(x=25 / W, y=1 - 563 / H, xref="paper", yref="paper", showarrow=False, textangle=-90,
                   xanchor="center", yanchor="middle",
                   text="Distance to the halo center [kpc]", font=dict(family=SERIF, size=22.5, color="#111"))
fig.add_annotation(x=715 / W, y=1 - 1152 / H, xref="paper", yref="paper", showarrow=False,
                   xanchor="center", yanchor="middle",
                   text="Time [Gyr]", font=dict(family=SERIF, size=22.5, color="#111"))

fig.update_layout(
    width=W, height=H, margin=dict(l=0, r=0, t=0, b=0, autoexpand=False),
    paper_bgcolor="white", plot_bgcolor="white",
    legend=dict(x=553 / W, y=1 - 576 / H, xanchor="left", yanchor="top", bgcolor="rgba(0,0,0,0)",
                font=dict(family=SERIF, size=21, color="#111")),
)

# drop the default page margin so the figure sits at the window's top-left corner
fig.write_html("out.html", config={"displayModeBar": False},
               post_script="document.body.style.margin='0';document.body.style.overflow='hidden';")
